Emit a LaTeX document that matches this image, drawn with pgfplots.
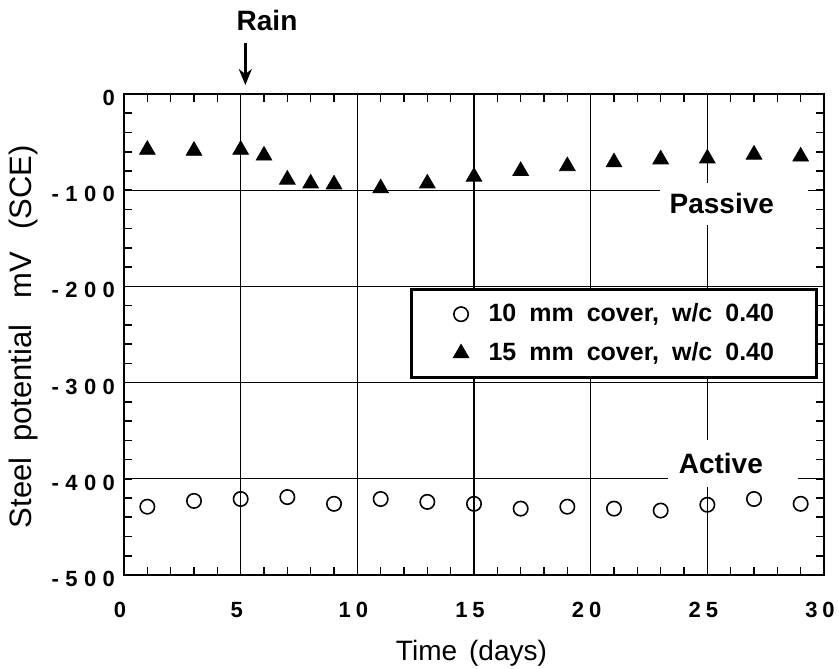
\documentclass[border=0pt]{standalone}
\usepackage{pgfplots}
\pgfplotsset{compat=1.18}
\usepackage{fontspec}
\setmainfont{Liberation Sans}
\usetikzlibrary{arrows.meta}

% letter spacing used in the tick labels and word spacing in the legend
\newcommand{\yg}{\hspace{3.2pt}}
\newcommand{\xg}{\hspace{2.5pt}}
\newcommand{\wg}{\hspace{6.5pt}}
\newcommand{\tickfont}{\bfseries\fontsize{11}{13}\selectfont}

\begin{document}
\begin{tikzpicture}
\path[use as bounding box] (-62pt,-46.5pt) rectangle (357.5pt,287.5pt);
\begin{axis}[
  at={(0,0)}, anchor=south west,
  scale only axis, width=350pt, height=240.5pt,
  xmin=0, xmax=30, ymin=-500, ymax=0,
  xtick={0,5,...,30}, ytick={-500,-400,...,0},
  xticklabels={0,5,1\xg0,1\xg5,2\xg0,2\xg5,3\xg0},
  yticklabels={-\yg5\yg0\yg0,-\yg4\yg0\yg0,-\yg3\yg0\yg0,-\yg2\yg0\yg0,-\yg1\yg0\yg0,0},
  xticklabel style={font=\tickfont, yshift=-10pt, xshift=-2pt},
  yticklabel style={font=\tickfont, yshift=-2pt, xshift=-1pt},
  minor x tick num=4, minor y tick num=4,
  tick align=inside,
  major tick length=4pt, minor tick length=4pt,
  every tick/.style={black, line width=0.8pt},
  axis line style={line width=1.1pt},
  grid=major,
  major grid style={black, line width=0.6pt},
  xlabel={Time\hspace{6pt}(days)},
  ylabel={Steel\hspace{8pt}potential\hspace{13pt}mV\hspace{11pt}(SCE)},
  xlabel style={font=\fontsize{14}{16}\selectfont,
    at={(axis description cs:0.4964,-0.162)}, anchor=center},
  ylabel style={font=\fontsize{15.5}{17}\selectfont,
    at={(axis description cs:-0.1443,0.495)}, anchor=center},
  clip=false,
  legend cell align=left,
  legend image code/.code={\path (-5pt,0pt) (5pt,0pt); \draw[#1] plot coordinates {(0pt,0pt)};},
  legend style={at={(axis cs:12.26,-201.8)}, anchor=north west,
    draw=black, line width=1.5pt, fill=white,
    font=\bfseries\fontsize{12.5}{14}\selectfont,
    inner xsep=19pt, inner ysep=5pt, row sep=5pt,
    /tikz/every odd column/.append style={column sep=6pt}},
]

% white patches behind the region labels
\fill[white] (axis cs:22.97,-92.6) rectangle (axis cs:29.3,-136.2);
\fill[white] (axis cs:23.3,-359.9) rectangle (axis cs:28.9,-408.7);
\node[font=\bfseries\fontsize{14}{16}\selectfont] at (axis cs:25.62,-114.3) {Passive};
\node[font=\bfseries\fontsize{14}{16}\selectfont] at (axis cs:25.58,-383.6) {Active};

% 10 mm cover
\addplot[only marks, mark=o, mark size=3.6pt, mark options={black, line width=0.8pt}]
  table {
  x y
  1 -429
  3 -423
  5 -421
  7 -419
  9 -426
  11 -421
  13 -424
  15 -426
  17 -431
  19 -429
  21 -431
  23 -433
  25 -427
  27 -421
  29 -426
  };
\addlegendentry{10\wg mm\wg cover,\wg w/c\wg 0.40}

% 15 mm cover
\addplot[only marks, mark=triangle*, mark size=4.5pt, mark options={black, fill=black, line width=0.4pt}]
  table {
  x y
  1 -58
  3 -59
  5 -58
  6 -64
  7 -89
  8 -93
  9 -94
  11 -98
  13 -93
  15 -86
  17 -80
  19 -75
  21 -71
  23 -68
  25 -67
  27 -63
  29 -65
  };
\addlegendentry{15\wg mm\wg cover,\wg w/c\wg 0.40}

% rain event
\draw[line width=1.3pt, -{Stealth[length=8pt, width=6.5pt]}]
  ([yshift=25.5pt]axis cs:5.2,0) -- ([yshift=4.5pt]axis cs:5.2,0);
\node[font=\bfseries\fontsize{14}{16}\selectfont] at ([yshift=37pt]axis cs:6.13,0) {Rain};
\end{axis}
\end{tikzpicture}
\end{document}
